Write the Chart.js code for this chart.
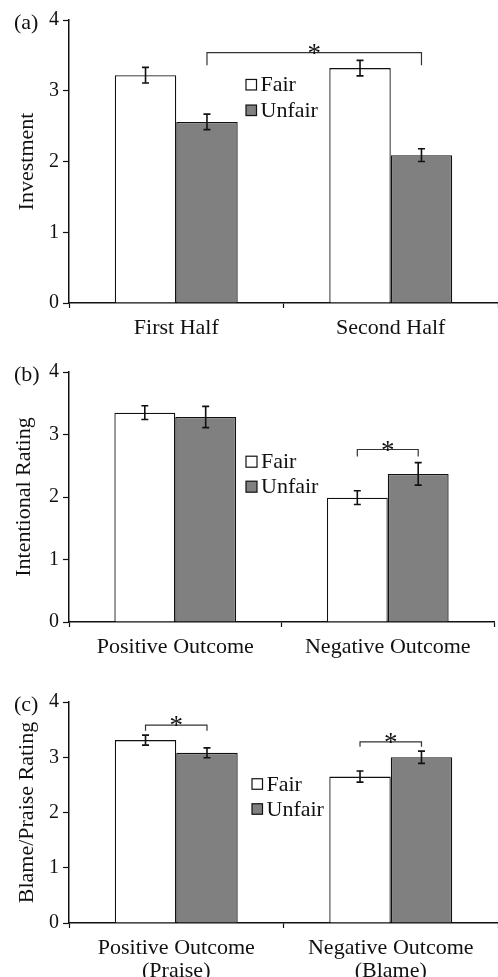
<!DOCTYPE html>
<html>
<head>
<meta charset="utf-8">
<script src="https://cdn.jsdelivr.net/npm/chart.js@4.4.0/dist/chart.umd.min.js"></script>
<style>
  body { margin: 0; background: #fff; }
  #wrap { position: relative; width: 498px; height: 977px; }
  canvas { position: absolute; left: 0; }
</style>
</head>
<body>
<div id="wrap">
  <canvas id="chartA" width="498" height="350" style="top:0px"></canvas>
  <canvas id="chartB" width="498" height="315" style="top:350px"></canvas>
  <canvas id="chartC" width="498" height="312" style="top:665px"></canvas>
</div>
<script>
// data
const seriesNames = ['Fair', 'Unfair'];
const yTicks = [0, 1, 2, 3, 4];

const investLabels = ['First Half', 'Second Half'];
const investFair = [3.22, 3.32];
const investUnfair = [2.56, 2.09];
const investFairErr = [0.11, 0.11];
const investUnfairErr = [0.11, 0.09];

const intentLabels = ['Positive Outcome', 'Negative Outcome'];
const intentFair = [3.35, 1.99];
const intentUnfair = [3.28, 2.37];
const intentFairErr = [0.11, 0.11];
const intentUnfairErr = [0.17, 0.18];

const blameLabels = [['Positive Outcome', '(Praise)'], ['Negative Outcome', '(Blame)']];
const blameFair = [3.31, 2.65];
const blameUnfair = [3.08, 3.00];
const blameFairErr = [0.09, 0.10];
const blameUnfairErr = [0.09, 0.11];

// significance brackets: [dataset, index] to [dataset, index], heights in axis units
const investSig = [{ from: [1, 0], to: [1, 1], top: 3.54, foot: 3.36 }];
const intentSig = [{ from: [0, 1], to: [1, 1], top: 2.76, foot: 2.65 }];
const blameSig = [
    { from: [0, 0], to: [1, 0], top: 3.58, foot: 3.48 },
    { from: [0, 1], to: [1, 1], top: 3.28, foot: 3.19 }
];

const INK = '#111';
const SERIF = "'Liberation Serif', 'DejaVu Serif', serif";

Chart.defaults.font.family = SERIF;
Chart.defaults.color = INK;
Chart.defaults.animation = false;

const errorBars = {
    id: 'errorBars',
    afterDatasetsDraw(chart) {
        const ctx = chart.ctx;
        const y = chart.scales.y;
        ctx.save();
        ctx.strokeStyle = INK;
        ctx.lineWidth = 1.6;
        chart.data.datasets.forEach((ds, i) => {
            chart.getDatasetMeta(i).data.forEach((bar, j) => {
                const v = ds.data[j], e = ds.errors[j];
                const top = y.getPixelForValue(v + e);
                const bot = y.getPixelForValue(v - e);
                ctx.beginPath();
                ctx.moveTo(bar.x, top); ctx.lineTo(bar.x, bot);
                ctx.moveTo(bar.x - 3.5, top); ctx.lineTo(bar.x + 3.5, top);
                ctx.moveTo(bar.x - 3.5, bot); ctx.lineTo(bar.x + 3.5, bot);
                ctx.stroke();
            });
        });
        ctx.restore();
    }
};

const brackets = {
    id: 'brackets',
    afterDatasetsDraw(chart, args, opts) {
        const ctx = chart.ctx;
        const y = chart.scales.y;
        ctx.save();
        ctx.strokeStyle = '#333';
        ctx.lineWidth = 1.2;
        ctx.fillStyle = INK;
        ctx.font = '27px ' + SERIF;
        ctx.textAlign = 'center';
        ctx.textBaseline = 'alphabetic';
        (opts.items || []).forEach(b => {
            const x1 = chart.getDatasetMeta(b.from[0]).data[b.from[1]].x;
            const x2 = chart.getDatasetMeta(b.to[0]).data[b.to[1]].x;
            const yt = y.getPixelForValue(b.top);
            const yf = y.getPixelForValue(b.foot);
            ctx.beginPath();
            ctx.moveTo(x1, yf); ctx.lineTo(x1, yt); ctx.lineTo(x2, yt); ctx.lineTo(x2, yf);
            ctx.stroke();
            ctx.fillText('*', (x1 + x2) / 2, yt + 9);
        });
        ctx.restore();
    }
};

const boxLegend = {
    id: 'boxLegend',
    afterDraw(chart, args, opts) {
        const ctx = chart.ctx;
        ctx.save();
        ctx.font = '22px ' + SERIF;
        ctx.textBaseline = 'middle';
        ctx.textAlign = 'left';
        chart.data.datasets.forEach((ds, i) => {
            const cy = opts.y + i * opts.gap;
            const s = opts.box;
            ctx.fillStyle = ds.backgroundColor;
            ctx.fillRect(opts.x, cy - s / 2, s, s);
            ctx.strokeStyle = INK;
            ctx.lineWidth = 1.2;
            ctx.strokeRect(opts.x, cy - s / 2, s, s);
            ctx.fillStyle = INK;
            ctx.fillText(ds.label, opts.x + s + 4, cy + 1);
        });
        ctx.restore();
    }
};

const panelTag = {
    id: 'panelTag',
    afterDraw(chart, args, opts) {
        const ctx = chart.ctx;
        ctx.save();
        ctx.font = '22px ' + SERIF;
        ctx.fillStyle = INK;
        ctx.textBaseline = 'middle';
        ctx.textAlign = 'left';
        ctx.fillText(opts.text, 14, chart.chartArea.top + 3);
        ctx.restore();
    }
};

function makeChart(id, cfg) {
    return new Chart(document.getElementById(id), {
        type: 'bar',
        data: {
            labels: cfg.labels,
            datasets: [{
                label: seriesNames[0],
                data: cfg.fair,
                errors: cfg.fairErr,
                backgroundColor: '#ffffff',
                borderColor: INK,
                borderWidth: 1.3
            }, {
                label: seriesNames[1],
                data: cfg.unfair,
                errors: cfg.unfairErr,
                backgroundColor: '#808080',
                borderColor: INK,
                borderWidth: 1.3
            }]
        },
        options: {
            responsive: false,
            layout: { padding: { top: cfg.padTop, right: cfg.padRight, left: 0, bottom: 0 } },
            datasets: { bar: { categoryPercentage: 0.573, barPercentage: 1.0 } },
            plugins: {
                legend: { display: false },
                tooltip: { enabled: false },
                brackets: { items: cfg.sig },
                boxLegend: cfg.legend,
                panelTag: { text: cfg.tag }
            },
            scales: {
                x: {
                    grid: { drawOnChartArea: false, tickLength: 5, color: INK, tickWidth: 1.2 },
                    border: { display: true, color: INK, width: 1.5 },
                    ticks: { font: { size: 22, lineHeight: 1.05 }, padding: 9, color: INK },
                    afterFit: s => { s.height = cfg.xHeight; }
                },
                y: {
                    min: 0,
                    max: 4,
                    afterBuildTicks: s => { s.ticks = yTicks.map(v => ({ value: v })); },
                    grid: { drawOnChartArea: false, tickLength: 6, color: INK, tickWidth: 1.2 },
                    border: { display: true, color: INK, width: 1.5 },
                    ticks: { font: { size: 20 }, padding: 4, color: INK },
                    title: { display: true, text: cfg.yTitle, font: { size: 22 }, padding: { top: cfg.titlePad, bottom: 0 }, color: INK },
                    afterFit: s => { s.width = 69; }
                }
            }
        },
        plugins: [errorBars, brackets, boxLegend, panelTag]
    });
}

makeChart('chartA', {
    labels: investLabels, fair: investFair, unfair: investUnfair,
    fairErr: investFairErr, unfairErr: investUnfairErr, sig: investSig,
    yTitle: 'Investment', tag: '(a)', padTop: 20, padRight: 0, xHeight: 47, titlePad: 14,
    legend: { x: 246, y: 84.7, gap: 25.6, box: 10.5 }
});

makeChart('chartB', {
    labels: intentLabels, fair: intentFair, unfair: intentUnfair,
    fairErr: intentFairErr, unfairErr: intentUnfairErr, sig: intentSig,
    yTitle: 'Intentional Rating', tag: '(b)', padTop: 22, padRight: 4, xHeight: 43, titlePad: 11,
    legend: { x: 246, y: 111.7, gap: 25, box: 11 }
});

makeChart('chartC', {
    labels: blameLabels, fair: blameFair, unfair: blameUnfair,
    fairErr: blameFairErr, unfairErr: blameUnfairErr, sig: blameSig,
    yTitle: 'Blame/Praise Rating', tag: '(c)', padTop: 37, padRight: 0, xHeight: 54, titlePad: 14,
    legend: { x: 252, y: 119, gap: 25, box: 10.5 }
});
</script>
</body>
</html>
